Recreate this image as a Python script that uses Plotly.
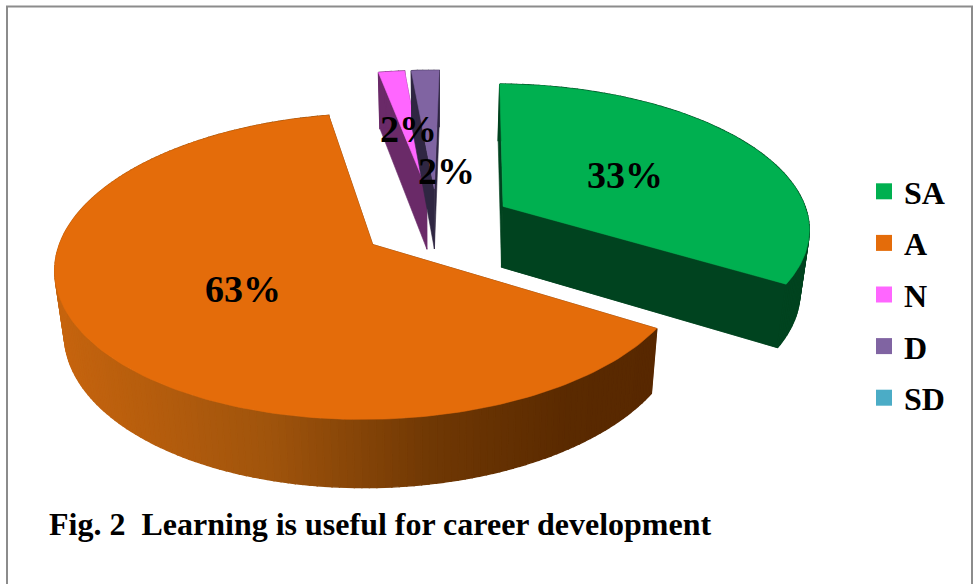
import math
import plotly.graph_objects as go

categories = ["SA", "A", "N", "D", "SD"]
values = [33.4, 63.3, 1.6, 1.7, 0.0]
top_colors = ["#00B050", "#E46C0A", "#FF66FF", "#8064A2", "#4BACC6"]
wall_colors = ["#00431F", None, "#6A2A68", "#2F2642", "#1F5A6B"]
cut_colors = ["#00431F", "#5A2A00", "#6A2A68", "#2F2642", "#1F5A6B"]
title_text = "Fig. 2  Learning is useful for career development"

# projection of the tilted, exploded pie
W, H = 973, 584
CX, CY, RX, RY = 437.0, 223.5, 307.0, 144.0
PERSP, DEPTH, SHRINK, EXPLODE, ROT = 0.14, 63.0, 0.025, 0.25, 1.0


def project(X, Y, z):
    s = (1 - SHRINK * z) / (1 - PERSP * Y)
    return CX + RX * X * s, CY + (RY * Y + DEPTH * z) * s


def unit(theta):
    t = math.radians(theta)
    return math.sin(t), -math.cos(t)


def mix(stops, t):
    t = max(0.0, min(1.0, t))
    for (a, ca), (b, cb) in zip(stops, stops[1:]):
        if t <= b:
            f = (t - a) / (b - a) if b > a else 0
            c = [round(ca[i] + (cb[i] - ca[i]) * f) for i in range(3)]
            return "rgb(%d,%d,%d)" % tuple(c)
    return "rgb(%d,%d,%d)" % tuple(stops[-1][1])


orange_stops = [
    (0.0, (198, 100, 14)),
    (0.35, (160, 84, 12)),
    (0.62, (112, 56, 4)),
    (0.85, (90, 42, 0)),
    (1.0, (88, 40, 0)),
]

fig = go.Figure()


def poly(pts, color, lw=0.6):
    fig.add_trace(go.Scatter(
        x=[p[0] for p in pts] + [pts[0][0]],
        y=[p[1] for p in pts] + [pts[0][1]],
        mode="lines", fill="toself", fillcolor=color,
        line=dict(color=color, width=lw),
        hoverinfo="skip", showlegend=False))


total = sum(values)
angles = []
cum = ROT
for v in values:
    span = 360 * v / total
    angles.append((cum, cum + span))
    cum += span

wedges = []
for i, v in enumerate(values):
    if v <= 0:
        continue
    a0, a1 = angles[i]
    ex, ey = unit((a0 + a1) / 2)
    wedges.append((i, a0, a1, ex * EXPLODE, ey * EXPLODE))

# back to front: thin slices, then SA, then A
order = {2: 0, 3: 1, 0: 2, 1: 3}
for i, a0, a1, ox, oy in sorted(wedges, key=lambda w: order[w[0]]):
    n = max(4, int((a1 - a0) / 1.2))
    thetas = [a0 + (a1 - a0) * k / n for k in range(n + 1)]
    rim = [(ox + unit(t)[0], oy + unit(t)[1]) for t in thetas]

    # radial cut faces: end face first, then the start face
    for X, Y in (rim[-1], rim[0]):
        poly([project(ox, oy, 0), project(X, Y, 0), project(X, Y, 1), project(ox, oy, 1)], cut_colors[i])
    if i == 0:
        X, Y = rim[-1]
        poly([project(ox, oy, 0), project(X, Y, 0), project(X, Y, 1), project(ox, oy, 1)], cut_colors[i])

    # outer wall
    for (X0, Y0), (X1, Y1) in zip(rim, rim[1:]):
        if wall_colors[i] is None:
            px = project((X0 + X1) / 2, (Y0 + Y1) / 2, 0)[0]
            col = mix(orange_stops, (px - 56) / (658 - 56))
        else:
            col = wall_colors[i]
        poly([project(X0, Y0, 0), project(X1, Y1, 0), project(X1, Y1, 1), project(X0, Y0, 1)], col, 1.4)

    # top surface
    poly([project(ox, oy, 0)] + [project(X, Y, 0) for X, Y in rim], top_colors[i])

# legend entries
for i, name in enumerate(categories):
    fig.add_trace(go.Scatter(
        x=[None], y=[None], mode="markers", name=name, legendgroup=name,
        marker=dict(symbol="square", size=16, color=top_colors[i]),
        showlegend=True, hoverinfo="skip"))

# data labels
label_pos = [(625, 175), (242.5, 289), (408, 129), (446, 171)]
for v, (lx, ly) in zip(values, label_pos):
    fig.add_annotation(x=lx, y=ly, text=f"{round(v)}%", showarrow=False,
                       xanchor="center", yanchor="middle",
                       font=dict(family="Liberation Serif", size=38, color="black", weight=700))

fig.add_annotation(x=47, y=524, text=title_text, showarrow=False, xanchor="left", yanchor="middle",
                   font=dict(family="Liberation Serif", size=32, color="black", weight=700))

fig.update_layout(
    width=W, height=H, margin=dict(l=0, r=0, t=0, b=0, autoexpand=False),
    paper_bgcolor="white", plot_bgcolor="white",
    xaxis=dict(range=[0, W], visible=False, fixedrange=True),
    yaxis=dict(range=[H, 0], visible=False, fixedrange=True),
    showlegend=True,
    legend=dict(x=864 / W, xanchor="left", y=1 - 164 / H, yanchor="top",
                bgcolor="rgba(0,0,0,0)", tracegroupgap=7, traceorder="grouped",
                font=dict(family="Liberation Serif", size=32, color="black", weight=700)),
    shapes=[dict(type="rect", xref="paper", yref="paper",
                 x0=7 / W, x1=972 / W, y0=-0.05, y1=1 - 6.5 / H,
                 line=dict(color="#8C8C8C", width=2), fillcolor="rgba(0,0,0,0)", layer="above")],
)

fig.write_html("out.html", config={"displayModeBar": False},
               post_script="document.body.style.margin='0';document.documentElement.style.overflow='hidden';")
